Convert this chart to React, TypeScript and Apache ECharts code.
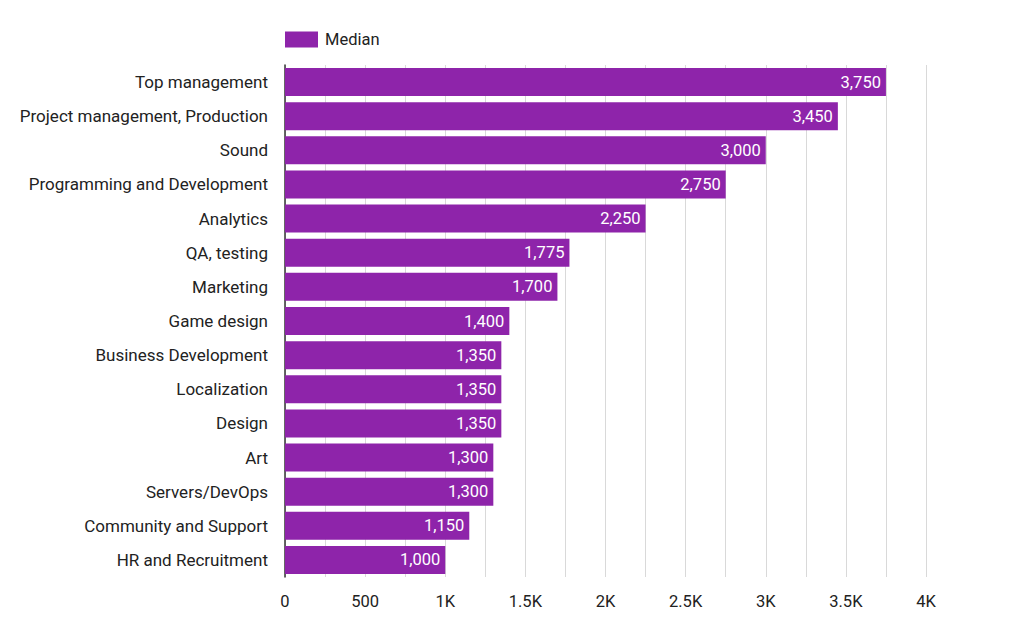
import React, { useEffect, useRef } from "react";
import * as echarts from "echarts";

const categories = [
  "Top management",
  "Project management, Production",
  "Sound",
  "Programming and Development",
  "Analytics",
  "QA, testing",
  "Marketing",
  "Game design",
  "Business Development",
  "Localization",
  "Design",
  "Art",
  "Servers/DevOps",
  "Community and Support",
  "HR and Recruitment",
];
const medianValues = [3750, 3450, 3000, 2750, 2250, 1775, 1700, 1400, 1350, 1350, 1350, 1300, 1300, 1150, 1000];
const seriesName = "Median";

const fmtTick = (v: number) => {
  if (v % 500 !== 0) return "";
  if (v === 0) return "0";
  if (v < 1000) return String(v);
  return v / 1000 + "K";
};

export default function App() {
  const ref = useRef<HTMLDivElement>(null);
  useEffect(() => {
    if (!ref.current) return;
    const chart = echarts.init(ref.current, undefined, { renderer: "svg" });
    chart.setOption({
      animation: false,
      textStyle: { fontFamily: "Roboto" },
      legend: {
        data: [{ name: seriesName, icon: "rect" }],
        left: 285,
        top: 31,
        padding: 0,
        itemWidth: 33,
        itemHeight: 16,
        itemGap: 8,
        textStyle: { fontSize: 16.5, color: "#222", fontFamily: "Roboto", padding: [0, 0, 0, 2] },
      },
      grid: { left: 285, right: 91, top: 65, bottom: 59, containLabel: false },
      xAxis: {
        type: "value",
        min: 0,
        max: 4000,
        interval: 250,
        axisLine: { show: false },
        axisTick: { show: false },
        splitLine: { show: true, lineStyle: { color: "#d9d9d9", width: 1 } },
        axisLabel: {
          formatter: (v: number) => fmtTick(v),
          fontSize: 16.5,
          color: "#222",
          margin: 16,
          showMinLabel: true,
          showMaxLabel: true,
        },
      },
      yAxis: {
        type: "category",
        data: categories,
        inverse: true,
        axisLine: { show: true, lineStyle: { color: "#333", width: 1.5 } },
        axisTick: { show: false },
        axisLabel: { fontSize: 17, color: "#222", margin: 17 },
      },
      series: [
        {
          name: seriesName,
          type: "bar",
          data: medianValues,
          barCategoryGap: "18%",
          itemStyle: { color: "#8e24aa" },
          label: {
            show: true,
            position: "insideRight",
            color: "#fff",
            fontSize: 16.5,
            distance: 5,
            formatter: (p: any) => Number(p.value).toLocaleString("en-US"),
          },
        },
      ],
    });
    return () => chart.dispose();
  }, []);
  return <div ref={ref} style={{ width: 1017, height: 636, position: "absolute", left: 0, top: 0 }} />;
}
